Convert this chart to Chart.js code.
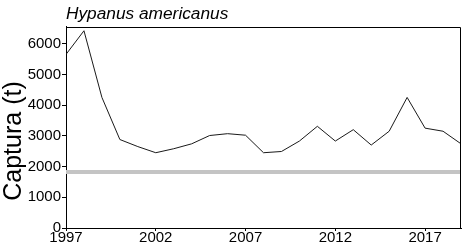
<!DOCTYPE html>
<html>
<head>
<meta charset="utf-8">
<script src="https://cdn.jsdelivr.net/npm/chart.js@4"></script>
<style>
html,body{margin:0;padding:0;background:#fff;}
#wrap{width:465px;height:248px;position:relative;}
</style>
</head>
<body>
<div id="wrap"><canvas id="c" width="465" height="248"></canvas></div>
<script>
const years = [1997,1998,1999,2000,2001,2002,2003,2004,2005,2006,2007,2008,2009,2010,2011,2012,2013,2014,2015,2016,2017,2018,2019];
const captura = [5650,6420,4250,2880,2650,2450,2580,2740,3010,3070,3020,2450,2490,2830,3310,2830,3200,2700,3150,4250,3250,3150,2740];
const referenceLevel = 1820;
const xTicks = [1997,2002,2007,2012,2017];
const yTicks = [0,1000,2000,3000,4000,5000,6000];
const titleText = 'Hypanus americanus';
const yTitle = 'Captura (t)';

const FONT = "'Liberation Sans', Arial, Helvetica, sans-serif";
Chart.defaults.color = '#000';
Chart.defaults.font.family = FONT;

const framePlugin = {
  id: 'frame',
  afterDraw(chart) {
    const {ctx, chartArea: a} = chart;
    ctx.save();
    ctx.strokeStyle = '#000';
    ctx.lineWidth = 1;
    ctx.beginPath();
    ctx.moveTo(Math.round(a.left) + 0.5, Math.round(a.top) + 0.5);
    ctx.lineTo(Math.round(a.right) - 0.5, Math.round(a.top) + 0.5);
    ctx.lineTo(Math.round(a.right) - 0.5, Math.round(a.bottom));
    ctx.stroke();
    // y axis title
    ctx.translate(14, 141);
    ctx.rotate(-Math.PI / 2);
    ctx.font = '25px ' + FONT;
    ctx.fillStyle = '#000';
    ctx.textAlign = 'center';
    ctx.textBaseline = 'middle';
    ctx.fillText(yTitle, 0, 0);
    ctx.restore();
  }
};

new Chart(document.getElementById('c'), {
  type: 'line',
  data: {
    datasets: [
      {
        data: [{x: years[0], y: referenceLevel}, {x: years[years.length - 1], y: referenceLevel}],
        borderColor: '#c4c4c4',
        borderWidth: 4,
        pointRadius: 0,
        tension: 0,
        clip: {left: 0, right: 0, top: 0, bottom: 0},
        order: 2
      },
      {
        data: years.map((y, i) => ({x: y, y: captura[i]})),
        borderColor: '#1a1a1a',
        borderWidth: 1,
        pointRadius: 0,
        tension: 0,
        order: 1
      }
    ]
  },
  options: {
    responsive: false,
    animation: false,
    devicePixelRatio: 1,
    layout: {padding: {left: 0, right: 4, top: 0, bottom: 0}},
    plugins: {
      legend: {display: false},
      tooltip: {enabled: false},
      title: {
        display: true,
        text: titleText,
        align: 'start',
        fullSize: false,
        color: '#000',
        font: {size: 17.3, style: 'italic', weight: 'normal', lineHeight: 1.2},
        padding: {top: 4, bottom: 2}
      }
    },
    scales: {
      x: {
        type: 'linear',
        min: 1997,
        max: 2019,
        afterBuildTicks: s => { s.ticks = xTicks.map(v => ({value: v})); },
        afterFit: s => { s.height = 20; },
        grid: {display: true, drawOnChartArea: false, tickLength: 3, color: '#000'},
        border: {display: true, color: '#000', width: 1},
        ticks: {
          autoSkip: false,
          maxRotation: 0,
          padding: -2,
          font: {size: 15},
          color: '#000',
          callback: v => String(v)
        }
      },
      y: {
        min: 0,
        max: 6550,
        afterBuildTicks: s => { s.ticks = yTicks.map(v => ({value: v})); },
        afterFit: s => { s.width = 66; },
        grid: {display: true, drawOnChartArea: false, tickLength: 4, color: '#000'},
        border: {display: true, color: '#000', width: 1},
        ticks: {
          padding: 1,
          font: {size: 15},
          color: '#000',
          callback: v => String(v)
        }
      }
    }
  },
  plugins: [framePlugin]
});
</script>
</body>
</html>
